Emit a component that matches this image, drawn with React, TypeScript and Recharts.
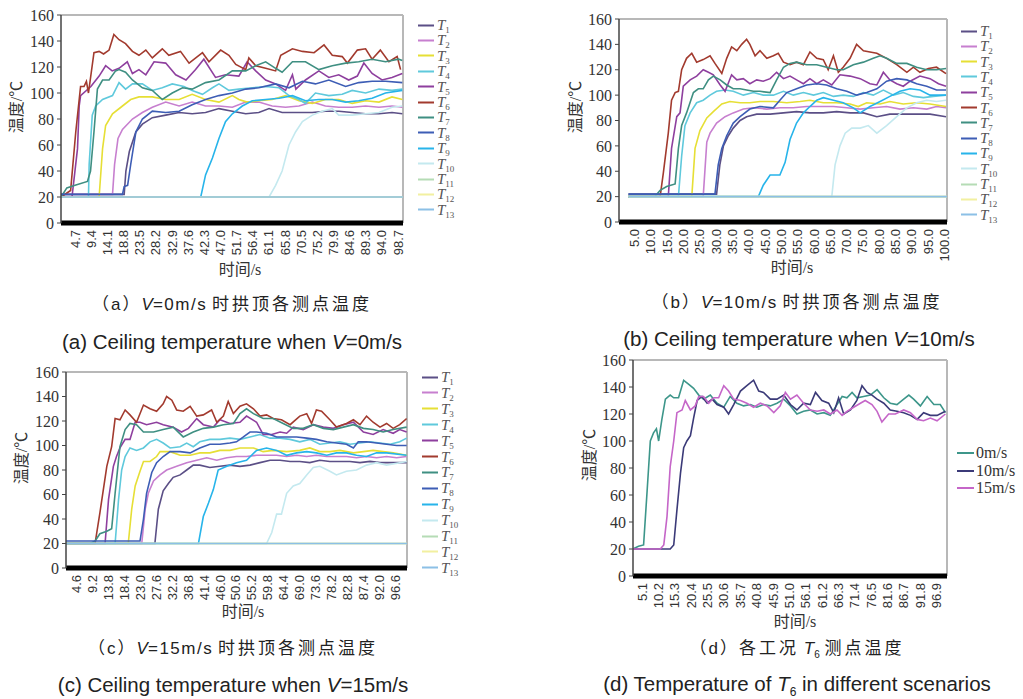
import React from 'react';
import { LineChart, Line, XAxis, YAxis, ReferenceLine } from 'recharts';

type Pts = [number, number][];

// ---------- shared ----------
const Y_TICKS = [0, 20, 40, 60, 80, 100, 120, 140, 160];
const SENSOR_IDS = ['1', '2', '3', '4', '5', '6', '7', '8', '9', '10', '11', '12', '13'];
const SENSOR_COLORS = ['#5b4f86', '#c77fcf', '#e6df35', '#5fc9dc', '#8e3f9e', '#a23a2e', '#3f8f82', '#3d5db5', '#27b4ea', '#c4e9ef', '#b5dcb5', '#f2f0a0', '#8cc0e6'];

// ---------- (a) V = 0 m/s ----------
const A_TICKS = [4.7, 9.4, 14.1, 18.8, 23.5, 28.2, 32.9, 37.6, 42.3, 47.0, 51.7, 56.4, 61.1, 65.8, 70.5, 75.2, 79.9, 84.6, 89.3, 94.0, 98.7];
const A_DOMAIN: [number, number] = [0.6, 100.2];
const A_T1: Pts = [[0.6,22],[19.0,22],[19.5,40],[20.5,55],[22.4,70],[24.3,76],[27.2,81],[31.1,83],[35.0,85],[38.8,84],[42.7,85],[46.6,88],[50.5,86],[54.4,84],[58.2,85],[61.2,88],[65.0,85],[69.9,85],[73.8,85],[77.6,86],[81.5,86],[85.4,85],[89.3,84],[93.2,84],[97.0,85],[100.0,84]];
const A_T2: Pts = [[0.6,22],[15.6,22],[16.2,45],[17.2,65],[18.5,72],[21.4,80],[24.3,85],[27.2,89],[31.1,93],[35.0,90],[38.8,93],[42.7,90],[46.6,90],[50.5,89],[54.4,93],[58.2,93],[62.1,90],[66.0,89],[69.9,90],[73.8,93],[77.6,90],[81.5,89],[85.4,89],[89.3,90],[93.2,89],[97.0,90],[100.0,89]];
const A_T3: Pts = [[0.6,20],[11.7,20],[12.7,57],[13.6,75],[15.6,84],[18.5,90],[20.9,95],[23.3,97],[27.2,97],[31.1,95],[35.0,95],[38.8,99],[42.7,95],[46.6,93],[50.5,98],[52.4,95],[54.8,93],[58.2,94],[62.1,95],[66.0,98],[69.9,94],[73.8,92],[77.6,95],[81.5,95],[85.4,92],[89.3,94],[93.2,93],[97.0,97],[100.0,95]];
const A_T4: Pts = [[0.6,20],[8.6,20],[8.8,45],[9.7,83],[10.7,90],[12.7,95],[15.6,98],[17.5,108],[19.4,103],[21.4,107],[24.3,107],[27.2,102],[30.1,104],[33.0,107],[36.4,105],[38.8,102],[41.8,99],[44.7,104],[46.6,107],[49.5,102],[52.4,103],[56.3,104],[60.2,105],[64.1,104],[67.0,98],[69.9,95],[71.8,92],[74.7,100],[78.6,98],[82.5,99],[85.4,102],[89.3,100],[93.2,103],[97.0,102],[100.0,103]];
const A_T5: Pts = [[0.6,20],[3.8,20],[5.4,57],[5.9,90],[6.3,98],[9.3,105],[11.7,113],[13.6,121],[15.5,117],[17.5,119],[19.9,124],[21.4,115],[23.3,118],[25.3,114],[27.7,124],[31.1,123],[34.0,114],[37.0,110],[39.8,118],[42.2,126],[45.6,112],[48.5,114],[52.4,113],[54.8,124],[57.3,117],[60.2,110],[63.1,107],[66.0,102],[68.0,114],[69.0,103],[71.8,110],[75.7,117],[78.6,112],[81.5,114],[84.4,110],[86.9,113],[88.8,123],[91.2,115],[94.1,110],[97.0,112],[100.0,115]];
const A_T6: Pts = [[0.6,20],[3.4,25],[4.9,70],[6.3,105],[7.3,105],[8.0,109],[8.6,100],[10.2,131],[11.7,132],[13.0,130],[14.6,133],[16.0,145],[17.5,141],[19.4,138],[21.4,132],[23.3,129],[25.3,133],[27.2,127],[30.1,134],[32.0,129],[35.4,132],[37.9,123],[41.8,131],[43.7,124],[47.1,133],[49.5,129],[51.5,122],[54.4,118],[55.3,127],[57.3,121],[60.2,119],[63.1,117],[64.6,129],[68.0,134],[70.9,132],[74.3,131],[77.2,137],[79.6,129],[82.5,128],[84.0,123],[86.9,133],[89.3,134],[91.2,126],[93.6,133],[96.1,124],[98.5,128],[99.5,118]];
const A_T7: Pts = [[0.6,20],[2.3,27],[4.7,29],[8.3,32],[9.2,40],[10.2,70],[11.2,103],[12.7,110],[14.6,110],[16.5,117],[17.5,118],[19.4,116],[21.4,110],[24.3,104],[27.2,102],[30.1,95],[33.0,100],[36.0,104],[38.8,103],[42.7,108],[46.6,110],[50.5,117],[54.4,117],[57.3,121],[60.2,124],[63.1,119],[65.0,116],[68.0,124],[71.8,124],[75.7,118],[79.6,121],[83.5,123],[87.3,124],[91.2,126],[95.1,124],[98.9,126],[100.0,125]];
const A_T8: Pts = [[0.6,22],[18.5,22],[19.0,28],[20.0,29],[20.9,45],[22.4,70],[24.3,80],[27.2,86],[31.1,85],[35.0,86],[38.8,91],[42.7,95],[46.6,98],[50.5,100],[54.4,103],[58.2,104],[63.1,107],[67.0,104],[70.9,109],[74.7,107],[78.6,110],[83.5,105],[87.3,108],[91.2,109],[95.1,109],[100.0,108]];
const A_T9: Pts = [[0.6,20],[41.3,20],[42.7,37],[44.7,50],[46.6,65],[48.5,78],[50.5,84],[53.4,90],[56.3,94],[60.2,95],[64.1,96],[68.0,98],[71.8,94],[75.7,95],[79.6,95],[83.5,93],[87.3,94],[91.2,96],[95.1,100],[100.0,102]];
const A_T10: Pts = [[0.6,20],[61.2,20],[63.1,29],[65.0,40],[67.0,60],[68.9,70],[70.9,78],[73.8,83],[76.7,86],[79.6,88],[81.5,83],[85.4,83],[89.3,84],[93.2,85],[97.0,89],[100.0,90]];
const A_T11: Pts = [[0.6,20],[100.2,20]];
const A_T12: Pts = [[0.6,20],[100.2,20]];
const A_T13: Pts = [[0.6,20],[100.2,20]];

// ---------- (b) V = 10 m/s ----------
const B_TICKS = [5, 10, 15, 20, 25, 30, 35, 40, 45, 50, 55, 60, 65, 70, 75, 80, 85, 90, 95, 100];
const B_DOMAIN: [number, number] = [0.3, 100.8];
const B_T1: Pts = [[3.2,22],[30.2,22],[31.2,45],[32.3,60],[33.8,68],[35.3,74],[37.4,80],[39.4,83],[42.5,85],[46.6,85],[50.7,86],[54.7,87],[58.8,86],[62.9,86],[67.0,87],[71.1,86],[75.2,86],[79.3,83],[83.3,85],[87.4,85],[91.5,85],[95.6,85],[100.5,83]];
const B_T2: Pts = [[3.2,20],[26.1,20],[27.2,63],[28.2,70],[30.2,78],[32.8,83],[35.3,86],[38.4,89],[41.5,90],[45.6,89],[49.6,90],[53.7,90],[57.8,91],[61.9,91],[66.0,91],[70.1,90],[74.2,89],[78.2,90],[82.3,91],[86.4,89],[90.5,90],[94.6,89],[97.6,91],[100.5,90]];
const B_T3: Pts = [[3.2,20],[22.6,20],[23.6,58],[25.1,72],[27.2,82],[29.2,87],[31.8,93],[34.3,95],[37.4,94],[40.4,94],[43.5,95],[47.6,95],[51.7,94],[55.8,95],[58.8,96],[62.9,94],[67.0,94],[71.1,93],[73.6,91],[76.2,94],[80.3,93],[83.3,95],[87.4,93],[91.5,94],[95.6,93],[100.5,91]];
const B_T4: Pts = [[3.2,20],[18.5,20],[19.5,52],[20.5,76],[22.1,86],[24.1,94],[26.1,96],[28.2,100],[30.2,103],[32.8,104],[35.3,103],[38.4,100],[41.5,102],[44.5,100],[47.6,100],[50.7,103],[53.7,100],[56.8,102],[59.9,100],[62.9,102],[66.0,99],[69.0,100],[72.1,99],[75.2,102],[78.2,100],[81.3,104],[84.4,100],[87.4,102],[90.5,99],[93.6,98],[96.6,99],[100.5,100]];
const B_T5: Pts = [[3.2,20],[15.4,20],[16.4,58],[18.0,83],[19.0,86],[20.0,107],[22.1,112],[24.1,115],[26.1,120],[27.7,118],[29.2,116],[31.3,108],[32.8,103],[34.8,116],[36.4,112],[38.4,113],[40.4,109],[42.5,112],[44.5,111],[46.6,113],[48.6,118],[50.7,113],[52.7,115],[54.7,112],[56.8,109],[58.8,113],[60.9,109],[62.9,112],[65.5,108],[68.0,116],[71.1,115],[74.2,113],[77.2,109],[79.3,108],[81.3,118],[83.3,112],[85.4,109],[87.4,107],[89.5,111],[92.5,115],[95.6,113],[98.2,109],[100.5,107]];
const B_T6: Pts = [[3.2,20],[12.9,20],[13.9,39],[15.4,70],[16.4,96],[17.5,102],[18.5,103],[19.5,120],[21.0,129],[22.6,133],[24.1,126],[26.1,128],[28.2,131],[29.7,125],[31.8,117],[33.3,129],[34.8,138],[36.4,135],[37.9,140],[39.4,144],[40.4,140],[42.0,131],[43.5,135],[45.6,129],[47.6,131],[49.1,133],[50.7,126],[52.7,124],[54.7,126],[56.8,124],[58.8,134],[60.9,129],[62.9,128],[64.4,120],[66.0,131],[67.5,118],[69.0,122],[71.1,129],[73.1,140],[75.2,135],[77.2,134],[79.3,133],[82.3,129],[85.4,124],[88.5,118],[90.5,122],[92.5,118],[95.1,121],[97.6,122],[100.5,117]];
const B_T7: Pts = [[3.2,20],[11.3,20],[12.9,25],[14.9,28],[17.5,30],[18.5,58],[19.5,76],[21.0,86],[23.1,102],[24.6,105],[26.1,105],[27.7,112],[29.2,115],[31.3,112],[33.3,108],[35.3,105],[37.4,105],[39.4,104],[41.5,103],[43.5,103],[46.6,102],[48.6,112],[50.7,122],[52.7,125],[54.7,126],[57.8,124],[60.9,124],[63.9,122],[67.0,120],[69.0,120],[72.1,124],[75.2,126],[78.2,129],[80.3,131],[82.3,129],[85.4,125],[88.5,125],[91.5,122],[94.6,120],[97.6,120],[100.5,121]];
const B_T8: Pts = [[3.2,22],[29.7,22],[30.7,45],[31.8,58],[33.3,68],[35.3,78],[37.4,83],[40.4,89],[43.5,91],[47.6,90],[49.6,96],[51.7,102],[54.7,105],[57.8,108],[60.9,109],[63.9,108],[67.0,105],[70.1,103],[73.1,100],[76.2,102],[79.3,105],[82.3,111],[85.4,113],[88.5,112],[91.5,109],[94.6,107],[97.6,104],[100.5,104]];
const B_T9: Pts = [[3.2,20],[43.0,20],[44.5,29],[46.6,37],[49.6,37],[51.2,47],[52.7,65],[54.7,78],[56.8,86],[58.8,91],[60.9,96],[62.9,98],[66.0,96],[69.0,94],[72.1,90],[74.2,86],[77.2,91],[80.3,95],[83.3,99],[86.4,103],[89.5,105],[92.5,104],[95.6,100],[100.5,100]];
const B_T10: Pts = [[3.2,20],[65.5,20],[66.5,45],[68.0,60],[69.6,70],[71.6,74],[74.2,74],[76.7,76],[79.3,70],[82.3,76],[85.4,83],[88.5,90],[91.5,94],[94.6,96],[97.6,95],[100.5,96]];
const B_T11: Pts = [[3.2,20],[100.8,20]];
const B_T12: Pts = [[3.2,20],[100.8,20]];
const B_T13: Pts = [[3.2,20],[100.8,20]];

// ---------- (c) V = 15 m/s ----------
const C_TICKS = [4.6, 9.2, 13.8, 18.4, 23.0, 27.6, 32.2, 36.8, 41.4, 46.0, 50.6, 55.2, 59.8, 64.4, 69.0, 73.6, 78.2, 82.8, 87.4, 92.0, 96.6];
const C_DOMAIN: [number, number] = [1.5, 100.1];
const C_T1: Pts = [[1.5,20],[27.2,20],[28.2,48],[29.6,63],[31.1,69],[32.5,74],[34.5,76],[36.4,80],[38.3,84],[40.2,84],[43.1,82],[46.0,83],[48.9,84],[51.8,83],[54.7,84],[57.6,86],[60.5,88],[63.4,88],[66.3,87],[69.1,87],[72.0,86],[74.9,88],[77.8,87],[80.7,87],[83.6,87],[86.5,86],[89.4,87],[92.3,86],[95.2,86],[100.0,86]];
const C_T2: Pts = [[1.5,20],[23.4,20],[24.4,48],[25.3,61],[26.8,71],[28.7,76],[30.6,80],[33.5,83],[36.4,86],[39.3,88],[42.2,90],[45.1,88],[48.0,90],[50.8,91],[53.7,91],[56.6,92],[59.5,92],[62.4,92],[65.3,91],[68.2,92],[71.1,91],[73.9,92],[76.9,91],[79.7,91],[82.6,91],[85.5,90],[88.4,91],[91.3,90],[94.2,91],[97.1,90],[100.0,91]];
const C_T3: Pts = [[1.5,20],[19.5,20],[20.5,48],[21.5,67],[22.9,79],[23.9,87],[25.8,87],[27.7,91],[28.7,95],[31.6,95],[34.5,92],[37.4,92],[40.2,94],[43.1,94],[46.0,96],[48.9,96],[51.8,98],[55.7,98],[58.5,95],[61.4,96],[65.3,95],[69.1,96],[72.0,98],[74.9,95],[77.8,95],[80.7,96],[84.6,94],[87.5,95],[90.3,96],[93.2,95],[96.1,94],[100.0,92]];
const C_T4: Pts = [[1.5,20],[15.7,20],[16.7,56],[17.6,80],[18.6,91],[20.0,98],[21.9,96],[23.9,98],[25.8,103],[27.7,105],[29.6,102],[31.6,98],[34.5,99],[36.4,102],[38.3,99],[40.2,103],[43.1,105],[46.0,105],[48.9,106],[51.8,105],[54.7,107],[57.6,109],[60.5,106],[63.4,106],[66.3,105],[69.1,103],[72.0,105],[74.9,101],[77.8,102],[80.7,103],[83.6,101],[86.5,102],[89.4,103],[92.3,102],[95.2,101],[98.0,103],[100.0,106]];
const C_T5: Pts = [[1.5,20],[12.8,20],[13.8,56],[15.2,83],[16.1,91],[17.1,98],[18.6,105],[20.0,105],[21.5,119],[22.9,119],[24.8,117],[27.7,119],[29.6,117],[32.5,115],[34.9,111],[36.9,114],[39.3,122],[41.2,117],[44.1,115],[46.0,121],[48.9,118],[51.8,119],[53.7,124],[56.6,119],[58.5,109],[61.0,109],[63.4,111],[65.3,110],[67.2,115],[70.1,113],[73.0,117],[75.9,115],[78.8,114],[81.7,117],[84.6,119],[87.5,111],[90.3,109],[93.2,113],[96.1,110],[98.0,113],[100.0,111]];
const C_T6: Pts = [[1.5,20],[9.9,20],[11.3,45],[13.3,83],[14.7,99],[15.7,122],[17.1,121],[18.6,129],[20.0,125],[21.9,119],[23.9,133],[25.8,130],[27.7,128],[29.6,134],[30.6,140],[32.1,137],[33.5,129],[35.4,128],[37.4,132],[39.3,124],[41.2,125],[43.6,129],[45.1,119],[47.0,124],[48.4,136],[49.9,126],[51.8,132],[53.7,134],[55.7,130],[57.6,124],[59.5,125],[61.4,122],[63.8,121],[66.3,117],[69.1,124],[71.1,126],[72.5,118],[73.9,129],[75.4,128],[77.8,121],[79.7,115],[82.6,118],[84.6,121],[86.5,117],[88.4,124],[90.3,119],[92.3,115],[94.2,118],[96.1,114],[98.0,117],[100.0,122]];
const C_T7: Pts = [[1.5,20],[8.5,20],[9.9,22],[11.3,28],[13.3,30],[14.7,32],[15.7,61],[17.1,99],[18.6,113],[20.0,118],[21.9,117],[23.9,111],[26.8,111],[29.6,113],[32.5,115],[35.4,107],[38.3,111],[41.2,114],[44.1,115],[47.0,117],[49.9,118],[51.8,126],[53.7,130],[55.7,126],[58.5,122],[61.4,122],[64.3,118],[67.2,114],[70.1,114],[73.0,117],[75.9,114],[78.8,113],[81.7,115],[84.6,117],[87.5,114],[90.3,113],[93.2,111],[96.1,113],[100.0,115]];
const C_T8: Pts = [[1.5,22],[22.9,22],[23.9,40],[24.8,61],[26.3,78],[27.7,86],[29.6,91],[31.6,95],[34.5,95],[37.4,94],[40.2,98],[43.1,101],[46.0,101],[48.9,102],[50.8,103],[52.8,107],[54.7,111],[56.6,111],[59.5,110],[62.4,107],[65.3,107],[68.2,107],[71.1,106],[73.9,105],[76.9,103],[79.7,102],[82.6,101],[84.6,98],[86.0,103],[88.4,103],[91.3,102],[94.2,101],[97.1,100],[100.0,100]];
const C_T9: Pts = [[1.5,20],[39.8,20],[41.2,42],[42.7,53],[44.1,64],[45.5,80],[48.0,83],[50.8,86],[53.7,88],[56.6,96],[59.5,98],[62.4,96],[65.3,92],[68.2,94],[71.1,95],[73.9,94],[76.9,92],[79.7,94],[82.6,94],[85.5,92],[88.4,91],[91.3,94],[94.2,94],[100.0,92]];
const C_T10: Pts = [[1.5,20],[59.5,20],[61.0,29],[62.4,44],[63.8,44],[65.3,61],[67.2,67],[69.1,69],[71.1,76],[73.0,82],[74.9,83],[77.8,79],[79.7,76],[82.6,79],[85.5,80],[88.4,84],[91.3,86],[94.2,84],[100.0,87]];
const C_T11: Pts = [[1.5,20],[100.1,20]];
const C_T12: Pts = [[1.5,20],[100.1,20]];
const C_T13: Pts = [[1.5,20],[100.1,20]];

// ---------- (d) T6 in different scenarios ----------
const D_TICKS = [5.1, 10.2, 15.3, 20.4, 25.5, 30.6, 35.7, 40.8, 45.9, 51.0, 56.1, 61.2, 66.3, 71.4, 76.5, 81.6, 86.7, 91.8, 96.9];
const D_DOMAIN: [number, number] = [2.3, 100.2];
const D_NAMES = ['0m/s', '10m/s', '15m/s'];
const D_COLORS = ['#3d968a', '#3b3a78', '#c566c8'];
const D_V0: Pts = [[2.3,20],[4.0,22],[5.6,23],[6.7,63],[7.7,100],[8.7,106],[9.6,109],[10.3,100],[11.3,116],[12.4,131],[13.9,134],[15.0,132],[16.5,132],[18.1,145],[19.7,142],[21.2,139],[22.8,134],[24.3,131],[26.4,134],[28.5,128],[30.6,125],[32.6,133],[34.7,128],[36.8,126],[38.9,127],[40.9,125],[43.0,127],[45.1,126],[47.2,128],[49.3,131],[51.4,126],[53.4,120],[55.5,122],[57.6,123],[59.7,120],[61.8,121],[63.8,119],[65.9,127],[67.5,133],[69.0,132],[70.6,136],[72.1,132],[74.2,133],[76.3,134],[78.4,138],[80.5,132],[82.5,128],[84.6,127],[86.7,131],[88.3,134],[89.8,131],[91.9,126],[94.0,133],[96.1,127],[98.1,127],[99.7,121]];
const D_V10: Pts = [[2.3,20],[13.9,20],[15.0,23],[16.0,49],[17.1,76],[18.1,95],[19.1,100],[20.2,104],[21.2,117],[22.3,130],[23.8,133],[25.4,128],[27.0,131],[28.5,127],[30.6,125],[32.1,120],[33.7,127],[35.8,137],[37.8,141],[39.9,145],[41.5,137],[43.0,136],[45.1,131],[47.2,131],[49.3,134],[51.4,127],[53.4,123],[55.5,128],[57.6,127],[59.2,136],[61.2,130],[63.3,128],[64.9,121],[66.4,132],[68.0,120],[70.1,123],[72.1,130],[73.7,141],[75.3,136],[76.8,134],[78.4,131],[80.5,128],[82.5,123],[84.6,122],[86.7,121],[88.8,119],[90.9,116],[92.9,121],[95.0,119],[97.1,119],[99.7,122]];
const D_V15: Pts = [[2.3,20],[10.8,20],[11.9,23],[12.9,44],[13.9,81],[15.0,100],[16.0,121],[17.6,123],[18.6,130],[20.2,123],[21.7,126],[22.8,133],[24.3,133],[25.9,128],[27.5,132],[29.0,132],[30.6,141],[32.1,137],[33.7,131],[35.8,130],[37.8,128],[39.9,125],[42.0,128],[44.1,126],[46.2,121],[48.2,126],[49.8,136],[51.4,131],[53.4,134],[55.5,128],[57.6,123],[59.7,122],[61.8,123],[63.8,120],[65.9,123],[67.5,119],[69.0,122],[71.1,125],[73.2,128],[74.7,130],[76.8,127],[78.4,122],[79.9,114],[82.0,120],[84.1,120],[86.7,123],[88.8,121],[90.9,116],[92.9,115],[95.0,117],[97.1,115],[99.7,120]];

const A_SERIES = [A_T1, A_T2, A_T3, A_T4, A_T5, A_T6, A_T7, A_T8, A_T9, A_T10, A_T11, A_T12, A_T13];
const B_SERIES = [B_T1, B_T2, B_T3, B_T4, B_T5, B_T6, B_T7, B_T8, B_T9, B_T10, B_T11, B_T12, B_T13];
const C_SERIES = [C_T1, C_T2, C_T3, C_T4, C_T5, C_T6, C_T7, C_T8, C_T9, C_T10, C_T11, C_T12, C_T13];
const D_SERIES = [D_V0, D_V10, D_V15];

// ---------- rendering ----------
const SERIF = "'Liberation Serif', 'DejaVu Serif', serif";
const SANS = "'Liberation Sans', Arial, sans-serif";
const CJK = "'Liberation Sans', 'Noto Sans CJK SC', sans-serif";

const XTick = (props: any) => {
  const { x, y, payload } = props;
  return (
    <text x={x} y={y} transform={`rotate(-90 ${x} ${y})`} textAnchor="end" dy="0.36em"
      fontSize={13} fontFamily={SANS} fill="#333">
      {Number(payload.value).toFixed(1)}
    </text>
  );
};

type PanelProps = {
  left: number; top: number; width: number; height: number;
  marginTop: number; marginRight: number; yWidth: number; xHeight: number;
  domain: [number, number]; ticks: number[]; series: Pts[]; colors: string[];
};

function Panel(p: PanelProps) {
  return (
    <div style={{ position: 'absolute', left: p.left, top: p.top }}>
      <LineChart width={p.width} height={p.height}
        margin={{ top: p.marginTop, right: p.marginRight, bottom: 0, left: 0 }}>
        <XAxis dataKey="t" type="number" domain={p.domain} ticks={p.ticks} allowDataOverflow
          interval={0} height={p.xHeight} tickLine={false} tickSize={5} tickMargin={2}
          axisLine={{ stroke: '#000', strokeWidth: 5 }} tick={<XTick />} />
        <YAxis type="number" domain={[0, 160]} ticks={Y_TICKS} interval={0} width={p.yWidth}
          tickSize={4} tickMargin={3} axisLine={{ stroke: '#444', strokeWidth: 1.5 }}
          tickLine={{ stroke: '#444' }}
          tick={{ fontFamily: SERIF, fontSize: 16, fill: '#333' }} />
        <ReferenceLine y={160} stroke="#b8b8b8" strokeWidth={2} />
        <ReferenceLine x={p.domain[1]} stroke="#b8b8b8" strokeWidth={2} />
        {p.series.map((s, i) => (
          <Line key={i} data={s.map(([t, v]) => ({ t, v }))} dataKey="v" type="linear"
            stroke={p.colors[i]} strokeWidth={1.6} dot={false} activeDot={false}
            isAnimationActive={false} />
        ))}
      </LineChart>
    </div>
  );
}

const abs = (x: number, y: number, extra: React.CSSProperties = {}): React.CSSProperties => ({
  position: 'absolute', left: x, top: y, transform: 'translate(-50%, -50%)', whiteSpace: 'nowrap',
  lineHeight: 1, ...extra,
});

function YTitle({ x, y }: { x: number; y: number }) {
  return (
    <div style={abs(x, y, { transform: 'translate(-50%, -50%) rotate(-90deg)', fontSize: 16, color: '#333', fontFamily: "'Liberation Serif', 'Noto Sans CJK SC', serif" })}>
      温度/℃
    </div>
  );
}

function XTitle({ x, y }: { x: number; y: number }) {
  return (
    <div style={abs(x, y, { fontSize: 16, color: '#333', fontFamily: "'Liberation Serif', 'Noto Sans CJK SC', serif" })}>
      时间/s
    </div>
  );
}

function SensorLegend({ x, y, gap }: { x: number; y: number; gap: number }) {
  return (
    <>
      {SENSOR_IDS.map((id, i) => (
        <div key={id} style={{ position: 'absolute', left: x, top: y + i * gap, transform: 'translateY(-50%)', display: 'flex', alignItems: 'center', whiteSpace: 'nowrap', lineHeight: 1 }}>
          <span style={{ display: 'inline-block', width: 16, height: 2, background: SENSOR_COLORS[i], marginRight: 3 }} />
          <span style={{ fontFamily: SERIF, fontStyle: 'italic', fontSize: 15, color: '#555' }}>T</span>
          <span style={{ fontFamily: SERIF, fontSize: 9, color: '#555', position: 'relative', top: 5 }}>{id}</span>
        </div>
      ))}
    </>
  );
}

function SpeedLegend({ x, y, gap }: { x: number; y: number; gap: number }) {
  return (
    <>
      {D_NAMES.map((n, i) => (
        <div key={n} style={{ position: 'absolute', left: x, top: y + i * gap, transform: 'translateY(-50%)', display: 'flex', alignItems: 'center', whiteSpace: 'nowrap', lineHeight: 1 }}>
          <span style={{ display: 'inline-block', width: 17, height: 2, background: D_COLORS[i], marginRight: 2 }} />
          <span style={{ fontFamily: SERIF, fontSize: 16, color: '#333' }}>{n}</span>
        </div>
      ))}
    </>
  );
}

const cnStyle: React.CSSProperties = { fontFamily: CJK, fontSize: 17, color: '#222' };
const hanStyle: React.CSSProperties = { letterSpacing: 3 };
const enStyle: React.CSSProperties = { fontFamily: SANS, fontSize: 20.5, color: '#222' };
const subStyle = (size: number, drop: number): React.CSSProperties => ({ fontSize: size, position: 'relative', top: drop, fontStyle: 'normal' });

function CaptionCN({ x, y, tag, speed }: { x: number; y: number; tag: string; speed: string }) {
  return (
    <div style={abs(x, y, cnStyle)}>
      <span style={{ letterSpacing: 2 }}>（{tag}）</span><i>V</i><span style={{ letterSpacing: 1.5 }}>={speed}</span> <span style={hanStyle}>时拱顶各测点温度</span>
    </div>
  );
}

function CaptionEN({ x, y, tag, speed }: { x: number; y: number; tag: string; speed: string }) {
  return (
    <div style={abs(x, y, enStyle)}>
      ({tag}) Ceiling temperature when <i>V</i>={speed}
    </div>
  );
}

export default function App() {
  return (
    <div style={{ position: 'absolute', left: 0, top: 0, width: 1023, height: 699, background: '#fff', overflow: 'hidden' }}>
      <Panel left={0} top={0} width={410} height={290} marginTop={15} marginRight={7} yWidth={61} xHeight={67}
        domain={A_DOMAIN} ticks={A_TICKS} series={A_SERIES} colors={SENSOR_COLORS} />
      <Panel left={540} top={0} width={415} height={290} marginTop={19} marginRight={8} yWidth={79} xHeight={68}
        domain={B_DOMAIN} ticks={B_TICKS} series={B_SERIES} colors={SENSOR_COLORS} />
      <Panel left={0} top={360} width={415} height={265} marginTop={12} marginRight={8} yWidth={66} xHeight={57}
        domain={C_DOMAIN} ticks={C_TICKS} series={C_SERIES} colors={SENSOR_COLORS} />
      <Panel left={570} top={345} width={385} height={285} marginTop={15} marginRight={8} yWidth={63} xHeight={54}
        domain={D_DOMAIN} ticks={D_TICKS} series={D_SERIES} colors={D_COLORS} />

      <YTitle x={17} y={107} />
      <YTitle x={576} y={107} />
      <YTitle x={22} y={458} />
      <YTitle x={590} y={455} />
      <XTitle x={240} y={270} />
      <XTitle x={792} y={268} />
      <XTitle x={243} y={612} />
      <XTitle x={795} y={622} />

      <SensorLegend x={418} y={25} gap={15.4} />
      <SensorLegend x={961} y={31} gap={15.3} />
      <SensorLegend x={422} y={377} gap={15.9} />
      <SpeedLegend x={957} y={453} gap={17.5} />

      <CaptionCN x={232} y={304} tag="a" speed="0m/s" />
      <CaptionEN x={232} y={342} tag="a" speed="0m/s" />
      <CaptionCN x={797} y={302} tag="b" speed="10m/s" />
      <CaptionEN x={799} y={339} tag="b" speed="10m/s" />
      <CaptionCN x={233} y={648} tag="c" speed="15m/s" />
      <CaptionEN x={233} y={685} tag="c" speed="15m/s" />
      <div style={abs(797, 648, cnStyle)}>
        <span style={{ letterSpacing: 2 }}>（d）</span><span style={hanStyle}>各工况</span> <i>T</i><span style={subStyle(10, 4)}>6</span> <span style={hanStyle}>测点温度</span>
      </div>
      <div style={abs(797, 684, enStyle)}>
        (d) Temperature of <i>T</i><span style={subStyle(12, 5)}>6</span> in different scenarios
      </div>
    </div>
  );
}
